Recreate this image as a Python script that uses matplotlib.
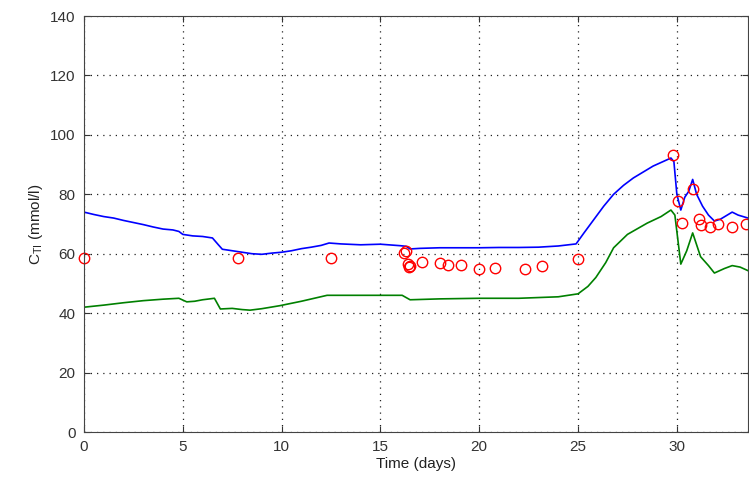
import matplotlib.pyplot as plt

plt.rcParams['font.family'] = ['Liberation Sans', 'DejaVu Sans']
plt.rcParams['mathtext.fontset'] = 'custom'
plt.rcParams['mathtext.rm'] = 'Liberation Sans'
plt.rcParams['mathtext.it'] = 'Liberation Sans'

# Model curve (blue)
blue_t = [0, 0.5, 1.0, 1.5, 2.0, 2.5, 3.0, 3.5, 4.0, 4.5, 4.8, 5.0, 5.5, 6.0, 6.5, 6.8,
          7.0, 7.5, 8.0, 8.5, 9.0, 9.5, 10.0, 10.5, 11.0, 11.5, 12.0, 12.4, 13, 14, 15,
          16.0, 16.3, 16.5, 17, 18, 19, 20, 21, 22, 23, 24, 24.9, 25.3, 25.8, 26.3, 26.8,
          27.3, 27.8, 28.3, 28.8, 29.3, 29.7, 29.85, 30.0, 30.2, 30.4, 30.6, 30.8, 31.0,
          31.3, 31.6, 31.9, 32.2, 32.5, 32.8, 33.1, 33.6]
blue_y = [74, 73.2, 72.5, 72, 71.2, 70.5, 69.8, 69, 68.3, 68, 67.5, 66.5, 66, 65.8, 65.3, 63,
          61.5, 61, 60.5, 60, 59.8, 60.2, 60.5, 61, 61.7, 62.2, 62.8, 63.6, 63.3, 63, 63.2,
          62.7, 62.5, 61.6, 61.8, 62, 62, 62, 62.1, 62.1, 62.2, 62.6, 63.3, 67, 71.5, 76, 80,
          83, 85.5, 87.5, 89.5, 91, 92.2, 91, 80, 74.7, 79, 81, 85, 80,
          76, 73, 71, 71.6, 72.8, 74, 73, 72]

# Model curve (green)
green_t = [0, 1, 2, 3, 4, 4.8, 5.2, 5.6, 6.0, 6.6, 6.9, 7.5, 8.0, 8.4, 9.0, 9.9, 11, 12.3,
           14, 16.1, 16.5, 18, 20, 22, 24, 25.0, 25.5, 25.9, 26.4, 26.8, 27.5, 28.5, 29.2,
           29.7, 29.9, 30.2, 30.5, 30.8, 31.2, 31.6, 31.9, 32.4, 32.8, 33.2, 33.6]
green_y = [42, 42.7, 43.5, 44.2, 44.7, 45, 43.8, 44, 44.5, 45, 41.4, 41.6, 41.2, 41, 41.5,
           42.5, 44, 46, 46, 46, 44.5, 44.8, 45, 45, 45.5, 46.5, 49, 52, 57, 62, 66.5, 70.3,
           72.5, 74.7, 73, 56.5, 61, 67, 59, 56, 53.5, 55, 56, 55.5, 54.3]

# Measurements (red circles)
meas_t = [0, 7.8, 12.5, 16.2, 16.3, 16.4, 16.45, 16.5, 17.1, 18.0, 18.4, 19.1, 20.0, 20.8,
          22.3, 23.2, 25.0, 29.8, 30.05, 30.25, 30.8, 31.1, 31.2, 31.7, 32.1, 32.8, 33.5]
meas_y = [58.5, 58.5, 58.5, 60.2, 61, 56.5, 55.5, 56, 57.3, 56.8, 56.2, 56.2, 54.9, 55.2,
          54.9, 55.9, 58.2, 93.2, 77.8, 70.3, 81.8, 71.7, 69.7, 69, 70, 69, 70]

fig = plt.figure(figsize=(7.49, 4.80), dpi=100)
ax = fig.add_axes([84 / 749, 48 / 480, 664 / 749, 416 / 480])

ax.plot(blue_t, blue_y, color=(0, 0, 1), lw=1.2)
ax.plot(green_t, green_y, color=(0, 0.5, 0), lw=1.2)
ax.plot(meas_t, meas_y, 'o', mfc='none', mec=(1, 0, 0), ms=7.5, mew=1.0, ls='none',
        clip_on=False)

ax.set_xlim(0, 33.6)
ax.set_ylim(0, 140)
ax.set_xticks(range(0, 31, 5))
ax.set_yticks(range(0, 141, 20))
ax.grid(True, ls=(0, (1, 4)), color='#222222', lw=0.9)
ax.tick_params(direction='in', top=True, right=True, labelsize=11, length=4, pad=6,
               colors='#333333')
for s in ax.spines.values():
    s.set_color('#444444')

ax.set_xlabel('Time (days)', fontsize=11, labelpad=2, color='#222222')
ax.set_ylabel('C$_{\\mathrm{TI}}$ (mmol/l)', fontsize=11, labelpad=4, color='#222222')

fig.savefig('out.png', dpi=100)
